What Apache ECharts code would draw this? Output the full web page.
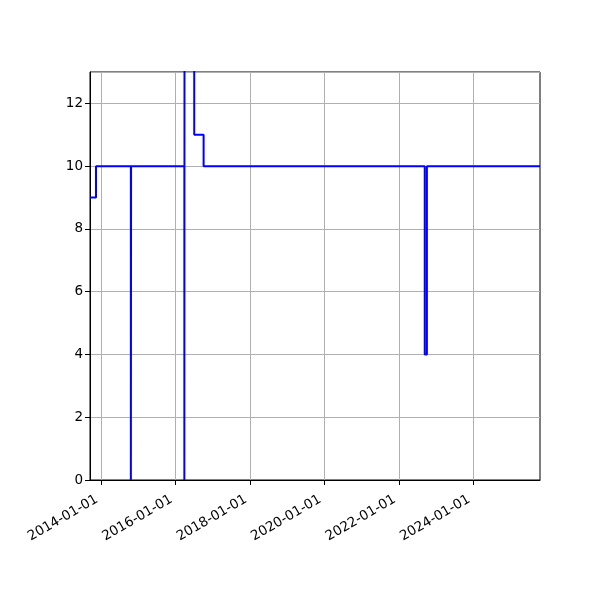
<!DOCTYPE html>
<html>
<head>
<meta charset="utf-8">
<script src="https://cdn.jsdelivr.net/npm/echarts@6/dist/echarts.min.js"></script>
<style>
  html, body { margin: 0; padding: 0; background: #fff; }
  #main { width: 600px; height: 600px; }
</style>
</head>
<body>
<div id="main"></div>
<script>
// change points: value holds from this date until the next one
var changeDates = [
    '2013-09-12', '2013-11-10', '2014-10-18', '2014-10-20',
    '2016-03-26', '2016-03-28', '2016-07-01', '2016-10-01',
    '2022-09-10', '2022-10-01', '2025-10-15'
];
var changeValues = [9, 10, 0, 10, 0, 20, 11, 10, 4, 10, 10];
var tickDates = ['2014-01-01', '2016-01-01', '2018-01-01', '2020-01-01', '2022-01-01', '2024-01-01'];

function toTime(s) {
    var p = s.split('-');
    return Date.UTC(+p[0], +p[1] - 1, +p[2]);
}
function pad(n) {
    return n < 10 ? '0' + n : '' + n;
}
function fmt(t) {
    var d = new Date(t);
    return d.getUTCFullYear() + '-' + pad(d.getUTCMonth() + 1) + '-' + pad(d.getUTCDate());
}

var seriesData = changeDates.map(function(d, i) {
    return [toTime(d), changeValues[i]];
});
var tickValues = tickDates.map(toTime);

var chart = echarts.init(document.getElementById('main'));
var font = 'DejaVu Sans';

chart.setOption({
    animation: false,
    grid: {
        left: 90,
        right: 60,
        top: 72,
        bottom: 120,
        show: true,
        borderColor: '#000',
        borderWidth: 1,
        backgroundColor: 'transparent'
    },
    xAxis: {
        type: 'value',
        min: seriesData[0][0],
        max: seriesData[seriesData.length - 1][0],
        axisLine: { show: true, onZero: false, lineStyle: { color: '#000', width: 1 } },
        axisTick: {
            show: true,
            length: 5,
            customValues: tickValues,
            lineStyle: { color: '#000', width: 1 }
        },
        axisLabel: {
            customValues: tickValues,
            rotate: 30,
            margin: 16,
            padding: [0, 5, 0, 0],
            color: '#000',
            fontFamily: font,
            fontSize: 13.5,
            formatter: function(v) { return fmt(v); }
        },
        splitLine: { show: false }
    },
    yAxis: {
        type: 'value',
        min: 0,
        max: 13,
        interval: 2,
        axisLine: { show: true, lineStyle: { color: '#000', width: 1 } },
        axisTick: { show: true, length: 5, lineStyle: { color: '#000', width: 1 } },
        axisLabel: {
            showMaxLabel: false,
            margin: 7,
            color: '#000',
            fontFamily: font,
            fontSize: 13.5
        },
        splitLine: { show: true, lineStyle: { color: '#b0b0b0', width: 1 } }
    },
    series: [{
        type: 'line',
        step: 'end',
        data: seriesData,
        showSymbol: false,
        clip: true,
        lineStyle: { color: '#0000ff', width: 2 },
        markLine: {
            silent: true,
            symbol: 'none',
            label: { show: false },
            lineStyle: { color: '#b0b0b0', width: 1, type: 'solid' },
            z: 1,
            data: tickValues.map(function(t) { return { xAxis: t }; })
        }
    }]
});
</script>
</body>
</html>
